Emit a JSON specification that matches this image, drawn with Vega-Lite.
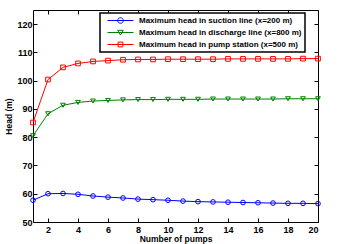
{
  "$schema": "https://vega.github.io/schema/vega-lite/v6.json",
  "width": 285,
  "height": 212,
  "autosize": "none",
  "padding": {"left": 33, "top": 10, "right": 33, "bottom": 22},
  "background": "white",
  "config": {
    "view": {"stroke": "black", "strokeWidth": 1},
    "font": "Liberation Sans",
    "axis": {
      "grid": false, "domain": false, "tickColor": "black", "tickSize": -4,
      "labelFont": "Liberation Sans", "labelFontWeight": "bold", "labelFontSize": 9, "labelColor": "black",
      "titleFont": "Liberation Sans", "titleFontWeight": "bold", "titleFontSize": 8.5, "titleColor": "black"
    }
  },
  "data": {"values": [
    {"n":1,"s":"Maximum head in suction line (x=200 m)","h":57.7},
    {"n":2,"s":"Maximum head in suction line (x=200 m)","h":60.0},
    {"n":3,"s":"Maximum head in suction line (x=200 m)","h":60.1},
    {"n":4,"s":"Maximum head in suction line (x=200 m)","h":59.8},
    {"n":5,"s":"Maximum head in suction line (x=200 m)","h":59.2},
    {"n":6,"s":"Maximum head in suction line (x=200 m)","h":58.8},
    {"n":7,"s":"Maximum head in suction line (x=200 m)","h":58.5},
    {"n":8,"s":"Maximum head in suction line (x=200 m)","h":58.1},
    {"n":9,"s":"Maximum head in suction line (x=200 m)","h":57.9},
    {"n":10,"s":"Maximum head in suction line (x=200 m)","h":57.7},
    {"n":11,"s":"Maximum head in suction line (x=200 m)","h":57.4},
    {"n":12,"s":"Maximum head in suction line (x=200 m)","h":57.2},
    {"n":13,"s":"Maximum head in suction line (x=200 m)","h":57.1},
    {"n":14,"s":"Maximum head in suction line (x=200 m)","h":57.0},
    {"n":15,"s":"Maximum head in suction line (x=200 m)","h":56.9},
    {"n":16,"s":"Maximum head in suction line (x=200 m)","h":56.8},
    {"n":17,"s":"Maximum head in suction line (x=200 m)","h":56.7},
    {"n":18,"s":"Maximum head in suction line (x=200 m)","h":56.6},
    {"n":19,"s":"Maximum head in suction line (x=200 m)","h":56.6},
    {"n":20,"s":"Maximum head in suction line (x=200 m)","h":56.5},
    {"n":1,"s":"Maximum head in discharge line (x=800 m)","h":80.5},
    {"n":2,"s":"Maximum head in discharge line (x=800 m)","h":88.3},
    {"n":3,"s":"Maximum head in discharge line (x=800 m)","h":91.3},
    {"n":4,"s":"Maximum head in discharge line (x=800 m)","h":92.3},
    {"n":5,"s":"Maximum head in discharge line (x=800 m)","h":92.8},
    {"n":6,"s":"Maximum head in discharge line (x=800 m)","h":93.0},
    {"n":7,"s":"Maximum head in discharge line (x=800 m)","h":93.2},
    {"n":8,"s":"Maximum head in discharge line (x=800 m)","h":93.3},
    {"n":9,"s":"Maximum head in discharge line (x=800 m)","h":93.3},
    {"n":10,"s":"Maximum head in discharge line (x=800 m)","h":93.4},
    {"n":11,"s":"Maximum head in discharge line (x=800 m)","h":93.4},
    {"n":12,"s":"Maximum head in discharge line (x=800 m)","h":93.4},
    {"n":13,"s":"Maximum head in discharge line (x=800 m)","h":93.5},
    {"n":14,"s":"Maximum head in discharge line (x=800 m)","h":93.5},
    {"n":15,"s":"Maximum head in discharge line (x=800 m)","h":93.5},
    {"n":16,"s":"Maximum head in discharge line (x=800 m)","h":93.5},
    {"n":17,"s":"Maximum head in discharge line (x=800 m)","h":93.5},
    {"n":18,"s":"Maximum head in discharge line (x=800 m)","h":93.6},
    {"n":19,"s":"Maximum head in discharge line (x=800 m)","h":93.6},
    {"n":20,"s":"Maximum head in discharge line (x=800 m)","h":93.6},
    {"n":1,"s":"Maximum head in pump station (x=500 m)","h":85.2},
    {"n":2,"s":"Maximum head in pump station (x=500 m)","h":100.4},
    {"n":3,"s":"Maximum head in pump station (x=500 m)","h":104.7},
    {"n":4,"s":"Maximum head in pump station (x=500 m)","h":106.1},
    {"n":5,"s":"Maximum head in pump station (x=500 m)","h":106.8},
    {"n":6,"s":"Maximum head in pump station (x=500 m)","h":107.1},
    {"n":7,"s":"Maximum head in pump station (x=500 m)","h":107.4},
    {"n":8,"s":"Maximum head in pump station (x=500 m)","h":107.5},
    {"n":9,"s":"Maximum head in pump station (x=500 m)","h":107.5},
    {"n":10,"s":"Maximum head in pump station (x=500 m)","h":107.6},
    {"n":11,"s":"Maximum head in pump station (x=500 m)","h":107.6},
    {"n":12,"s":"Maximum head in pump station (x=500 m)","h":107.6},
    {"n":13,"s":"Maximum head in pump station (x=500 m)","h":107.6},
    {"n":14,"s":"Maximum head in pump station (x=500 m)","h":107.7},
    {"n":15,"s":"Maximum head in pump station (x=500 m)","h":107.7},
    {"n":16,"s":"Maximum head in pump station (x=500 m)","h":107.7},
    {"n":17,"s":"Maximum head in pump station (x=500 m)","h":107.7},
    {"n":18,"s":"Maximum head in pump station (x=500 m)","h":107.7},
    {"n":19,"s":"Maximum head in pump station (x=500 m)","h":107.8},
    {"n":20,"s":"Maximum head in pump station (x=500 m)","h":107.8}
  ]},
  "resolve": {"axis": {"x": "independent", "y": "independent"}},
  "layer": [
    {
      "mark": {"type": "line", "strokeWidth": 1},
      "encoding": {
        "x": {"field": "n", "type": "quantitative", "scale": {"domain": [1, 20], "nice": false, "zero": false},
              "axis": {"title": "Number of pumps", "values": [2,4,6,8,10,12,14,16,18,20], "labelPadding": 7, "titlePadding": 0}},
        "y": {"field": "h", "type": "quantitative", "scale": {"domain": [50, 125], "nice": false, "zero": false},
              "axis": {"title": "Head (m)", "values": [50,60,70,80,90,100,110,120], "labelPadding": 5, "titlePadding": 3}},
        "color": {"field": "s", "type": "nominal",
          "scale": {"domain": ["Maximum head in suction line (x=200 m)", "Maximum head in discharge line (x=800 m)", "Maximum head in pump station (x=500 m)"],
                    "range": ["#0000ff", "#008000", "#ff0000"]},
          "legend": {
          "orient": "none", "legendX": 67, "legendY": 3, "title": null,
          "fillColor": "white", "strokeColor": "black", "labelLimit": 0,
          "padding": 3, "rowPadding": 2, "symbolSize": 64, "symbolStrokeWidth": 1, "symbolOffset": 13,
          "labelFont": "Liberation Sans", "labelFontWeight": "bold", "labelFontSize": 8, "labelColor": "black", "labelOffset": 14,
          "symbolType": "stroke",
          "encode": {
            "legend": {"update": {"strokeWidth": {"value": 1.5}}},
            "symbols": {"update": {
            "shape": {"signal": "datum.value == 'Maximum head in suction line (x=200 m)' ? 'M-3.25,0L3.25,0M-0.7,0A0.7,0.7 0 1,0 0.7,0A0.7,0.7 0 1,0 -0.7,0' : datum.value == 'Maximum head in discharge line (x=800 m)' ? 'M-3.25,0L3.25,0M-0.7,-0.55L0.7,-0.55L0,0.65Z' : 'M-3.25,0L3.25,0M-0.6,-0.6L0.6,-0.6L0.6,0.6L-0.6,0.6Z'"},
            "fill": {"value": "transparent"}
          }}}
        }}
      }
    },
    {
      "transform": [{"filter": "datum.s == 'Maximum head in suction line (x=200 m)'"}],
      "mark": {"type": "point", "shape": "circle", "filled": false, "strokeWidth": 1, "size": 22, "opacity": 1, "stroke": "#0000ff"},
      "encoding": {
        "x": {"field": "n", "type": "quantitative", "axis": {"orient": "top", "labels": false, "title": null, "values": [2,4,6,8,10,12,14,16,18,20]}},
        "y": {"field": "h", "type": "quantitative", "axis": {"orient": "right", "labels": false, "title": null, "values": [50,60,70,80,90,100,110,120]}}
      }
    },
    {
      "transform": [{"filter": "datum.s == 'Maximum head in discharge line (x=800 m)'"}],
      "mark": {"type": "point", "shape": "triangle-down", "filled": false, "strokeWidth": 1, "size": 22, "opacity": 1, "stroke": "#008000"},
      "encoding": {
        "x": {"field": "n", "type": "quantitative", "axis": null},
        "y": {"field": "h", "type": "quantitative", "axis": null}
      }
    },
    {
      "transform": [{"filter": "datum.s == 'Maximum head in pump station (x=500 m)'"}],
      "mark": {"type": "point", "shape": "square", "filled": false, "strokeWidth": 1, "size": 22, "opacity": 1, "stroke": "#ff0000"},
      "encoding": {
        "x": {"field": "n", "type": "quantitative", "axis": null},
        "y": {"field": "h", "type": "quantitative", "axis": null}
      }
    }
  ]
}
